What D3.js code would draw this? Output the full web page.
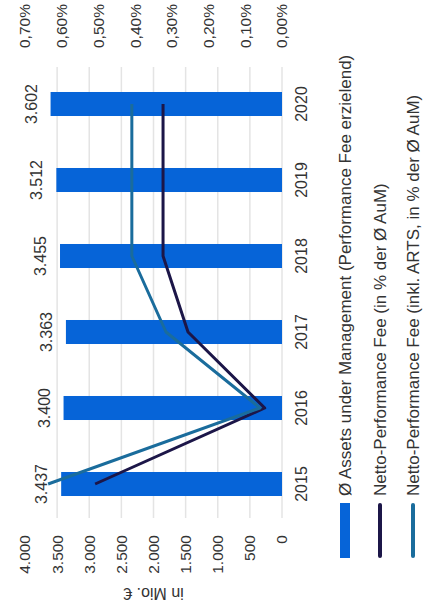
<!DOCTYPE html>
<html><head><meta charset="utf-8">
<script src="https://cdn.jsdelivr.net/npm/d3@7/dist/d3.min.js"></script>
<style>html,body{margin:0;padding:0;background:#fff;}svg{display:block;font-family:"Liberation Sans",Arial,sans-serif;}</style>
</head><body>
<svg id="c" width="424" height="612"></svg>
<script>
const years = ["2015","2016","2017","2018","2019","2020"];
const aum = [3437, 3400, 3363, 3455, 3512, 3602];
const netFee = [0.00509, 0.00047, 0.00256, 0.00324, 0.00324, 0.00324];
const netFeeArts = [0.00637, 0.00060, 0.00316, 0.00409, 0.00409, 0.00409];
const leftTicks = [0, 500, 1000, 1500, 2000, 2500, 3000, 3500, 4000];
const rightTicks = [0, 0.001, 0.002, 0.003, 0.004, 0.005, 0.006, 0.007];
const legendLabels = [
  "Ø Assets under Management (Performance Fee erzielend)",
  "Netto-Performance Fee (in % der Ø AuM)",
  "Netto-Performance Fee (inkl. ARTS, in % der Ø AuM)"
];
const axisTitle = "in Mio. €";

const de = d3.formatLocale({decimal: ",", thousands: ".", grouping: [3], currency: ["", " €"]});
const fmtNum = de.format(",");
const fmtPct = de.format(".2%");

const svg = d3.select("#c");
// unrotated frame: width 612 (u), height 424 (v); rotated -90 onto the page
const g = svg.append("g").attr("transform", "translate(0,612) rotate(-90)");

const x = d3.scaleBand().domain(years).range([90, 546]).paddingInner(0.684).paddingOuter(0.342);
const yL = d3.scaleLinear().domain([0, 4000]).range([282, 25]);
const yR = d3.scaleLinear().domain([0, 0.007]).range([282, 25]);

const barColor = "#0664d8", darkColor = "#1c1648", tealColor = "#1a6c9c", textColor = "#333";

// gridlines
g.append("g").selectAll("line").data(leftTicks.filter(t => t < 4000)).join("line")
  .attr("x1", 94).attr("x2", 545)
  .attr("y1", d => yL(d)).attr("y2", d => yL(d))
  .attr("stroke", "#e4e4e4").attr("stroke-width", 1.5);

// left axis
const axL = g.append("g").attr("transform", "translate(90,0)")
  .call(d3.axisLeft(yL).tickValues(leftTicks).tickFormat(fmtNum).tickSize(0).tickPadding(13));
axL.select(".domain").remove();
axL.selectAll("text").attr("font-size", 15.5).attr("fill", textColor).attr("font-family", "Liberation Sans, Arial, sans-serif");

// right axis
const axR = g.append("g").attr("transform", "translate(546,0)")
  .call(d3.axisRight(yR).tickValues(rightTicks).tickFormat(fmtPct).tickSize(0).tickPadding(18));
axR.select(".domain").remove();
axR.selectAll("text").attr("font-size", 15.5).attr("fill", textColor).attr("font-family", "Liberation Sans, Arial, sans-serif");

// category axis
const axB = g.append("g").attr("transform", "translate(0,282)")
  .call(d3.axisBottom(x).tickSize(0).tickPadding(14));
axB.select(".domain").remove();
axB.selectAll("text").attr("font-size", 16).attr("fill", textColor).attr("font-family", "Liberation Sans, Arial, sans-serif");

// axis title
g.append("text").attr("transform", "translate(19,153.5) rotate(-90)")
  .attr("text-anchor", "middle").attr("dominant-baseline", "central")
  .attr("font-size", 16).attr("fill", textColor).text(axisTitle);

// bars
g.append("g").selectAll("rect").data(years).join("rect")
  .attr("x", d => x(d)).attr("width", x.bandwidth())
  .attr("y", (d, i) => yL(aum[i])).attr("height", (d, i) => yL(0) - yL(aum[i]))
  .attr("fill", barColor);

// bar labels
g.append("g").selectAll("text").data(years).join("text")
  .attr("x", d => x(d) + x.bandwidth() / 2).attr("y", (d, i) => yL(aum[i]) - 14)
  .attr("text-anchor", "middle").attr("font-size", 16).attr("fill", textColor)
  .text((d, i) => fmtNum(aum[i]));

// lines
const line = d3.line().x(d => x(d[0]) + x.bandwidth() / 2).y(d => yR(d[1]));
g.append("path").datum(years.map((y, i) => [y, netFee[i]])).attr("d", line)
  .attr("fill", "none").attr("stroke", darkColor).attr("stroke-width", 3).attr("stroke-linejoin", "round");
g.append("path").datum(years.map((y, i) => [y, netFeeArts[i]])).attr("d", line)
  .attr("fill", "none").attr("stroke", tealColor).attr("stroke-width", 3).attr("stroke-linejoin", "round");

// legend
const rows = [345, 380, 413];
const lg = g.append("g");
lg.append("rect").attr("x", 54).attr("width", 55).attr("y", rows[0] - 5).attr("height", 10).attr("fill", barColor);
lg.append("line").attr("x1", 56).attr("x2", 107).attr("y1", rows[1]).attr("y2", rows[1])
  .attr("stroke", darkColor).attr("stroke-width", 4).attr("stroke-linecap", "round");
lg.append("line").attr("x1", 56).attr("x2", 107).attr("y1", rows[2]).attr("y2", rows[2])
  .attr("stroke", tealColor).attr("stroke-width", 4).attr("stroke-linecap", "round");
lg.selectAll("text.l").data(legendLabels).join("text").attr("class", "l")
  .attr("x", 116).attr("y", (d, i) => rows[i]).attr("dominant-baseline", "central")
  .attr("font-size", 17).attr("fill", textColor).text(d => d);
</script>
</body></html>
